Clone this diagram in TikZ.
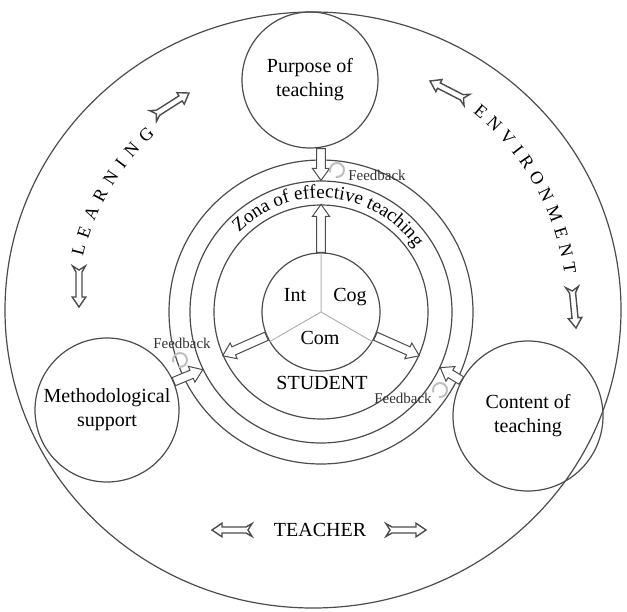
\documentclass[tikz,border=0pt]{standalone}
\usepackage{fontspec}
\setmainfont{Liberation Serif}
\usetikzlibrary{calc,decorations.text}

\tikzset{
  line/.style={draw=black!70, line width=0.6pt},
  disc/.style={line, circle, inner sep=0pt, align=center, font=\fontsize{10}{12}\selectfont},
  ring/.style={line, circle, inner sep=0pt},
  fat/.style={draw=black!70, fill=white, line width=0.5pt, line join=miter},
  loopy/.style={draw=black!25, line width=1pt},
  small/.style={font=\fontsize{7.5}{8}\selectfont, text=black!80},
  label/.style={font=\fontsize{10}{12}\selectfont},
}
\newcommand{\arcfont}{\fontsize{9}{11}\selectfont}

% hollow arrow, plain tail
\newcommand{\fatarrow}[2]{%
  \path let \p1=($(#2)-(#1)$) in \pgfextra{\pgfmathsetmacro\falen{veclen(\x1,\y1)}\pgfmathsetmacro\faang{atan2(\y1,\x1)}\global\let\falen\falen\global\let\faang\faang};
  \draw[fat, shift={(#1)}, rotate=\faang] (0pt,2.2pt) -- ({\falen pt-6pt},2.2pt) -- ({\falen pt-6pt},4.3pt) -- (\falen pt,0pt) -- ({\falen pt-6pt},-4.3pt) -- ({\falen pt-6pt},-2.2pt) -- (0pt,-2.2pt) -- cycle;
}
% hollow arrow, swallow tail
\newcommand{\tailarrow}[2]{%
  \path let \p1=($(#2)-(#1)$) in \pgfextra{\pgfmathsetmacro\falen{veclen(\x1,\y1)}\pgfmathsetmacro\faang{atan2(\y1,\x1)}\global\let\falen\falen\global\let\faang\faang};
  \draw[fat, line width=0.7pt, shift={(#1)}, rotate=\faang] (0pt,3.2pt) -- (3pt,1.5pt) -- ({\falen pt-5pt},1.5pt) -- ({\falen pt-5pt},3.4pt) -- (\falen pt,0pt) -- ({\falen pt-5pt},-3.4pt) -- ({\falen pt-5pt},-1.5pt) -- (3pt,-1.5pt) -- (0pt,-3.2pt) -- (2pt,0pt) -- cycle;
}

\begin{document}
\begin{tikzpicture}[x=0.5pt, y=-0.5pt]
  \useasboundingbox (0,0) rectangle (627,611);

  % outer field
  \coordinate (outer) at (313,310);
  \draw[line] (outer) ellipse [x radius=154pt, y radius=149pt];

  % zone rings and student
  \node[ring, minimum size=152pt] (ring1) at (321,312) {};
  \node[ring, minimum size=131pt] (ring2) at (321,312) {};
  \node[ring, minimum size=107pt] (ring3) at (321,312) {};
  \node[ring, minimum size=59pt] (core) at (321,312) {};
  \draw[draw=black!30, line width=0.5pt] (core.center) -- (core.90) (core.center) -- (core.210) (core.center) -- (core.-30);

  % the three components
  \node[disc, minimum size=68pt] (purpose) at (310,80) {Purpose of\\teaching};
  \node[disc, minimum size=72pt] (method) at (107,410) {Methodological\\support};
  \node[disc, minimum size=75pt] (content) at (528,416) {Content of\\teaching};

  \node[label] (int) at (295,295) {Int};
  \node[label] (cog) at (350,297) {Cog};
  \node[label] (com) at (320,338) {Com};
  \node[label] (student) at (322,383) {STUDENT};
  \node[label] (teacher) at (320,530) {TEACHER};

  % text on the rings
  \path[decorate, decoration={text along path, text align=center, text={|\fontsize{9.6}{11}\selectfont|Zona of effective teaching}}]
    ($(ring3.center)+(152:57pt)$) arc[start angle=152, end angle=18, radius=57pt];
  \path[decorate, decoration={text along path, text align={fit to path stretching spaces}, text={|\arcfont|L E A R N I N G}}]
    ($(outer)+(167:118pt)$) arc[start angle=167, end angle=132, radius=118pt];
  \path[decorate, decoration={text along path, text align={fit to path stretching spaces}, text={|\arcfont|E N V I R O N M E N T}}]
    ($(outer)+(51:127pt)$) arc[start angle=51, end angle=8, radius=127pt];

  % inner arrows
  \fatarrow{ring2.north |- purpose.south}{ring2.north}
  \fatarrow{core.north}{ring3.north}
  \fatarrow{core.-156}{ring3.-156}
  \fatarrow{core.-24}{ring3.-24}
  \fatarrow{method.23}{ring2.206}
  \fatarrow{content.152}{ring2.-25}

  % feedback
  \node[small] (fb1) at (377,175) {Feedback};
  \node[small] (fb2) at (182,343) {Feedback};
  \node[small] (fb3) at (403,398) {Feedback};
  \draw[loopy] ($(337,170)+(200:3.5pt)$) arc[start angle=200, end angle=-100, radius=3.5pt];
  \draw[loopy] ($(180,360)+(200:3.5pt)$) arc[start angle=200, end angle=-100, radius=3.5pt];
  \draw[loopy] ($(440,390)+(200:3.5pt)$) arc[start angle=200, end angle=-100, radius=3.5pt];

  % outer arrows
  \coordinate (la) at (153,116); \coordinate (lb) at (189,93);
  \coordinate (lc) at (79,266);  \coordinate (ld) at (79,307);
  \coordinate (ea) at (467,100); \coordinate (eb) at (430,81);
  \coordinate (ec) at (572,287); \coordinate (ed) at (576,328);
  \coordinate (ta) at (252,530); \coordinate (tb) at (212,530);
  \coordinate (tc) at (386,530); \coordinate (td) at (426,530);
  \tailarrow{la}{lb}
  \tailarrow{lc}{ld}
  \tailarrow{ea}{eb}
  \tailarrow{ec}{ed}
  \tailarrow{ta}{tb}
  \tailarrow{tc}{td}
\end{tikzpicture}
\end{document}
